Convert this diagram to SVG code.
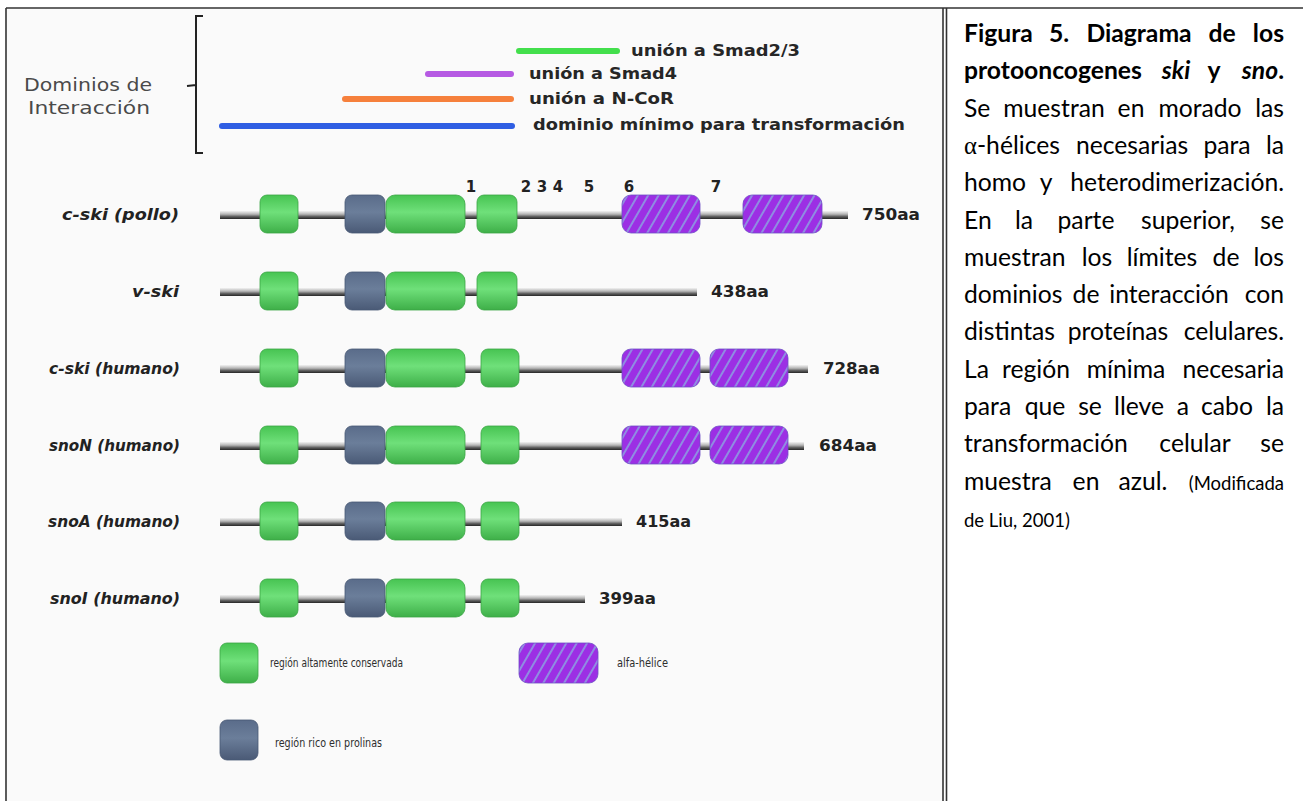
<svg xmlns="http://www.w3.org/2000/svg" width="1303" height="801" viewBox="0 0 1303 801">
  <defs>
    <style>
      .frame{fill:none;stroke:#333;stroke-width:1.6}
      .bar{fill:none;stroke-width:6;stroke-linecap:round}
      .dom{font-family:"DejaVu Sans",sans-serif;font-weight:bold;font-size:15.5px;fill:#262626}
      .side{font-family:"DejaVu Sans",sans-serif;font-size:17px;fill:#4a4a4a;text-anchor:middle}
      .lbl{font-family:"DejaVu Sans",sans-serif;font-weight:bold;font-style:italic;font-size:15.5px;fill:#222;text-anchor:end}
      .aa{font-family:"DejaVu Sans",sans-serif;font-weight:bold;font-size:16px;fill:#222}
      .num{font-family:"DejaVu Sans",sans-serif;font-weight:bold;font-size:15px;fill:#222;text-anchor:middle}
      .leg{font-family:"DejaVu Sans",sans-serif;font-size:12.5px;fill:#2e2e2e}
      .bb{fill:url(#backbone)}
      .g{fill:url(#green);stroke:#3aa544;stroke-width:0.8}
      .b{fill:url(#slate);stroke:#485873;stroke-width:0.8}
      .p{fill:url(#hatch);stroke:#6d4fc4;stroke-width:0.8}
      .cap{font-family:Lato,"Open Sans",sans-serif;font-size:24.7px;fill:#000}
      .cb{font-weight:bold}
      .sm{font-size:18.5px}
      .m{text-anchor:middle}
      .e{text-anchor:end}
    </style>
    <linearGradient id="backbone" x1="0" y1="0" x2="0" y2="1">
      <stop offset="0" stop-color="#f2f2f2"/>
      <stop offset="0.4" stop-color="#b5b5b5"/>
      <stop offset="0.7" stop-color="#5e5e5e"/>
      <stop offset="1" stop-color="#262626"/>
    </linearGradient>
    <linearGradient id="green" x1="0" y1="0" x2="0" y2="1">
      <stop offset="0" stop-color="#47c452"/>
      <stop offset="0.45" stop-color="#6fe07a"/>
      <stop offset="1" stop-color="#3eaf48"/>
    </linearGradient>
    <linearGradient id="slate" x1="0" y1="0" x2="0" y2="1">
      <stop offset="0" stop-color="#5a6c8a"/>
      <stop offset="0.45" stop-color="#6b7e9a"/>
      <stop offset="1" stop-color="#4a5a76"/>
    </linearGradient>
    <pattern id="hatch" width="9" height="9" patternUnits="userSpaceOnUse" patternTransform="rotate(30)">
      <rect width="9" height="9" fill="#9c2fe4"/>
      <line x1="2" y1="0" x2="2" y2="9" stroke="#8f8ce2" stroke-width="2"/>
    </pattern>
  </defs>

  <!-- page background and table frame -->
  <rect width="1303" height="801" fill="#ffffff"/>
  <rect x="7" y="9" width="935" height="792" fill="#fafafa"/>
  <line class="frame" x1="6" y1="8" x2="1303" y2="8"/>
  <line class="frame" x1="6" y1="8" x2="6" y2="801"/>
  <line class="frame" x1="943" y1="8" x2="943" y2="801"/>
  <line class="frame" x1="946.5" y1="8" x2="946.5" y2="801"/>

  <!-- interaction domain header -->
  <g id="domain-header">
    <text class="side" x="88" y="91" textLength="128" lengthAdjust="spacingAndGlyphs">Dominios de</text>
    <text class="side" x="89" y="114" textLength="122" lengthAdjust="spacingAndGlyphs">Interacción</text>
    <path d="M203,16 L196,16 L196,153 L203,153 M196,85 L187,86" fill="none" stroke="#222" stroke-width="2"/>
  </g>

  <g id="domain-bars">
    <line class="bar" x1="519" y1="51" x2="617" y2="51" stroke="#43df4c"/>
    <line class="bar" x1="428" y1="74" x2="511" y2="74" stroke="#b65ae3"/>
    <line class="bar" x1="345" y1="99" x2="511" y2="99" stroke="#f6803c"/>
    <line class="bar" x1="222" y1="126" x2="512" y2="126" stroke="#2f5ee3"/>
    <text class="dom" x="631" y="56" textLength="169" lengthAdjust="spacingAndGlyphs">unión a Smad2/3</text>
    <text class="dom" x="529" y="79" textLength="148" lengthAdjust="spacingAndGlyphs">unión a Smad4</text>
    <text class="dom" x="529" y="104" textLength="145" lengthAdjust="spacingAndGlyphs">unión a N-CoR</text>
    <text class="dom" x="533" y="130" textLength="372" lengthAdjust="spacingAndGlyphs">dominio mínimo para transformación</text>
  </g>

  <!-- protein rows -->
  <g id="c-ski-pollo">
    <text class="lbl" x="179" y="220" textLength="117" lengthAdjust="spacingAndGlyphs">c-ski (pollo)</text>
    <rect class="bb" x="220" y="211" width="628" height="8"/>
    <rect class="g" x="260" y="195" width="38" height="38" rx="7"/>
    <rect class="b" x="345" y="195" width="40" height="38" rx="7"/>
    <rect class="g" x="386" y="195" width="79" height="38" rx="9"/>
    <rect class="g" x="477" y="195" width="40" height="38" rx="7"/>
    <rect class="p" x="622" y="195" width="78" height="38" rx="9"/>
    <rect class="p" x="743" y="195" width="79" height="38" rx="9"/>
    <text class="num" x="471" y="192">1</text>
    <text class="num" x="526" y="192">2</text>
    <text class="num" x="542" y="192">3</text>
    <text class="num" x="558" y="192">4</text>
    <text class="num" x="589" y="192">5</text>
    <text class="num" x="629" y="192">6</text>
    <text class="num" x="716" y="192">7</text>
    <text class="aa" x="862" y="220" textLength="58" lengthAdjust="spacingAndGlyphs">750aa</text>
  </g>

  <g id="v-ski">
    <text class="lbl" x="179" y="297" textLength="47" lengthAdjust="spacingAndGlyphs">v-ski</text>
    <rect class="bb" x="220" y="288" width="477" height="8"/>
    <rect class="g" x="260" y="272" width="38" height="38" rx="7"/>
    <rect class="b" x="345" y="272" width="40" height="38" rx="7"/>
    <rect class="g" x="386" y="272" width="79" height="38" rx="9"/>
    <rect class="g" x="477" y="272" width="40" height="38" rx="7"/>
    <text class="aa" x="711" y="297" textLength="58" lengthAdjust="spacingAndGlyphs">438aa</text>
  </g>

  <g id="c-ski-humano">
    <text class="lbl" x="180" y="374" textLength="131" lengthAdjust="spacingAndGlyphs">c-ski (humano)</text>
    <rect class="bb" x="220" y="365" width="588" height="8"/>
    <rect class="g" x="260" y="349" width="38" height="38" rx="7"/>
    <rect class="b" x="345" y="349" width="40" height="38" rx="7"/>
    <rect class="g" x="386" y="349" width="79" height="38" rx="9"/>
    <rect class="g" x="481" y="349" width="38" height="38" rx="7"/>
    <rect class="p" x="622" y="349" width="78" height="38" rx="9"/>
    <rect class="p" x="710" y="349" width="78" height="38" rx="9"/>
    <text class="aa" x="823" y="374" textLength="57" lengthAdjust="spacingAndGlyphs">728aa</text>
  </g>

  <g id="snoN-humano">
    <text class="lbl" x="180" y="451" textLength="131" lengthAdjust="spacingAndGlyphs">snoN (humano)</text>
    <rect class="bb" x="220" y="442" width="584" height="8"/>
    <rect class="g" x="260" y="426" width="38" height="38" rx="7"/>
    <rect class="b" x="345" y="426" width="40" height="38" rx="7"/>
    <rect class="g" x="386" y="426" width="79" height="38" rx="9"/>
    <rect class="g" x="481" y="426" width="38" height="38" rx="7"/>
    <rect class="p" x="622" y="426" width="78" height="38" rx="9"/>
    <rect class="p" x="710" y="426" width="78" height="38" rx="9"/>
    <text class="aa" x="819" y="451" textLength="58" lengthAdjust="spacingAndGlyphs">684aa</text>
  </g>

  <g id="snoA-humano">
    <text class="lbl" x="180" y="527" textLength="132" lengthAdjust="spacingAndGlyphs">snoA (humano)</text>
    <rect class="bb" x="220" y="518" width="402" height="8"/>
    <rect class="g" x="260" y="502" width="38" height="38" rx="7"/>
    <rect class="b" x="345" y="502" width="40" height="38" rx="7"/>
    <rect class="g" x="386" y="502" width="79" height="38" rx="9"/>
    <rect class="g" x="481" y="502" width="38" height="38" rx="7"/>
    <text class="aa" x="636" y="527" textLength="55" lengthAdjust="spacingAndGlyphs">415aa</text>
  </g>

  <g id="snoI-humano">
    <text class="lbl" x="180" y="604" textLength="130" lengthAdjust="spacingAndGlyphs">snoI (humano)</text>
    <rect class="bb" x="220" y="595" width="365" height="8"/>
    <rect class="g" x="260" y="579" width="38" height="38" rx="7"/>
    <rect class="b" x="345" y="579" width="40" height="38" rx="7"/>
    <rect class="g" x="386" y="579" width="79" height="38" rx="9"/>
    <rect class="g" x="481" y="579" width="38" height="38" rx="7"/>
    <text class="aa" x="599" y="604" textLength="57" lengthAdjust="spacingAndGlyphs">399aa</text>
  </g>

  <!-- key -->
  <g id="legend">
    <rect class="g" x="220" y="643" width="38" height="40" rx="7"/>
    <text class="leg" x="270" y="667" textLength="133" lengthAdjust="spacingAndGlyphs">región altamente conservada</text>
    <rect class="p" x="519" y="643" width="79" height="40" rx="9"/>
    <text class="leg" x="617" y="667" textLength="51" lengthAdjust="spacingAndGlyphs">alfa-hélice</text>
    <rect class="b" x="220" y="720" width="38" height="40" rx="7"/>
    <text class="leg" x="275" y="747" textLength="107" lengthAdjust="spacingAndGlyphs">región rico en prolinas</text>
  </g>

  <!-- caption, justified between x=964 and x=1284 -->
  <g id="caption" class="cap">
    <text class="cb" x="964" y="42">Figura</text>
    <text class="cb m" x="1059" y="42">5.</text>
    <text class="cb m" x="1139" y="42">Diagrama</text>
    <text class="cb m" x="1222" y="42">de</text>
    <text class="cb e" x="1284" y="42">los</text>

    <text class="cb" x="964" y="79">protooncogenes</text>
    <text class="cb m" x="1176" y="79" font-style="italic">ski</text>
    <text class="cb m" x="1214" y="79">y</text>
    <text class="cb e" x="1284" y="79"><tspan font-style="italic">sno</tspan>.</text>

    <text x="964" y="117">Se</text>
    <text class="m" x="1054" y="117">muestran</text>
    <text class="m" x="1131" y="117">en</text>
    <text class="m" x="1200" y="117">morado</text>
    <text class="e" x="1284" y="117">las</text>

    <text x="964" y="154"><tspan font-family="'Liberation Serif',serif">α</tspan>-hélices</text>
    <text class="m" x="1132" y="154">necesarias</text>
    <text class="m" x="1227" y="154">para</text>
    <text class="e" x="1284" y="154">la</text>

    <text x="964" y="191">homo</text>
    <text class="m" x="1046" y="191">y</text>
    <text class="e" x="1284" y="191">heterodimerización.</text>

    <text x="964" y="229">En</text>
    <text class="m" x="1024" y="229">la</text>
    <text class="m" x="1086" y="229">parte</text>
    <text class="m" x="1188" y="229">superior,</text>
    <text class="e" x="1284" y="229">se</text>

    <text x="964" y="266">muestran</text>
    <text class="m" x="1097" y="266">los</text>
    <text class="m" x="1162" y="266">límites</text>
    <text class="m" x="1226" y="266">de</text>
    <text class="e" x="1284" y="266">los</text>

    <text x="964" y="303">dominios</text>
    <text class="m" x="1086" y="303">de</text>
    <text class="m" x="1169" y="303">interacción</text>
    <text class="e" x="1284" y="303">con</text>

    <text x="964" y="340">distintas</text>
    <text class="m" x="1118" y="340">proteínas</text>
    <text class="e" x="1284" y="340">celulares.</text>

    <text x="964" y="378">La</text>
    <text class="m" x="1036" y="378">región</text>
    <text class="m" x="1126" y="378">mínima</text>
    <text class="e" x="1284" y="378">necesaria</text>

    <text x="964" y="415">para</text>
    <text class="m" x="1045" y="415">que</text>
    <text class="m" x="1090" y="415">se</text>
    <text class="m" x="1139" y="415">lleve</text>
    <text class="m" x="1183" y="415">a</text>
    <text class="m" x="1227" y="415">cabo</text>
    <text class="e" x="1284" y="415">la</text>

    <text x="964" y="452">transformación</text>
    <text class="m" x="1195" y="452">celular</text>
    <text class="e" x="1284" y="452">se</text>

    <text x="964" y="490">muestra</text>
    <text class="m" x="1086" y="490">en</text>
    <text class="m" x="1143" y="490">azul.</text>
    <text class="e sm" x="1284" y="490">(Modificada</text>

    <text class="sm" x="964" y="527">de Liu, 2001)</text>
  </g>
</svg>
